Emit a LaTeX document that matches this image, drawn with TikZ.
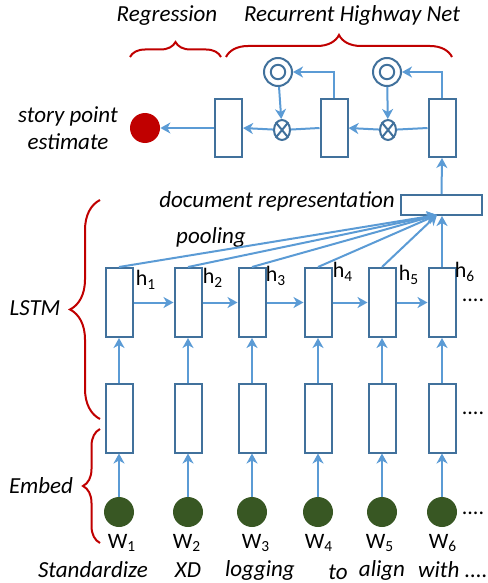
\documentclass[tikz,border=0pt]{standalone}
\usepackage{fontspec}
\setmainfont{Carlito}
\usetikzlibrary{decorations.pathreplacing,arrows.meta,shapes.geometric}

\definecolor{linkblue}{RGB}{91,155,213}
\definecolor{boxblue}{RGB}{65,113,156}
\definecolor{bracered}{RGB}{192,0,0}
\definecolor{wordgreen}{RGB}{56,87,35}

\begin{document}
\begin{tikzpicture}[x=0.5pt,y=-0.5pt,
  every node/.style={font=\fontsize{11}{13}\selectfont},
  lbl/.style={font=\fontsize{11.5}{13.5}\selectfont\itshape},
  link/.style={draw=linkblue,line width=1pt},
  arr/.style={link,-{Stealth[length=5pt,width=5.5pt,inset=1.5pt]}},
  cell/.style={draw=boxblue,line width=1pt,minimum width=13.5pt,minimum height=34.5pt,inner sep=0pt},
  rhn/.style={cell,minimum height=29pt},
  gate/.style={circle,draw=boxblue,line width=1pt,minimum size=14pt,inner sep=0pt,
    path picture={\draw[boxblue,line width=1pt] (path picture bounding box.center) circle (3.6pt);}},
  mult/.style={ellipse,draw=boxblue,line width=1pt,minimum width=8pt,minimum height=10pt,inner sep=0pt},
  word/.style={circle,fill=wordgreen,minimum size=15pt,inner sep=0pt},
  curly/.style={draw=bracered,line width=1pt,decorate,decoration={brace,amplitude=#1}}]

\useasboundingbox (0,0) rectangle (487,583);

% Top labels and braces
\node[lbl] (reg) at (167,16) {Regression};
\node[lbl] (hwy) at (352,15) {Recurrent Highway Net};
\draw[curly=7.5pt] (130,57) -- (221,57);
\draw[curly=11pt] (226,57) -- (452,57);

% Recurrent highway net
\node[rhn] (R1) at (228.5,128) {};
\node[rhn] (R2) at (334,128) {};
\node[rhn] (R3) at (442,128) {};
\node[gate] (G1) at (278,72) {};
\node[gate] (G2) at (387,72) {};
\node[mult] (M1) at (282,130) {};
\node[mult] (M2) at (388,130) {};
\foreach \m in {M1,M2}
  \draw[boxblue,line width=1pt] (\m.north west) -- (\m.south east) (\m.north east) -- (\m.south west);

\draw[link] (R3.west) -- (M2);
\draw[arr] (M2) -- (R2.east);
\draw[arr] (R3.north) |- (G2.east);
\draw[arr] (G2) -- (M2);
\draw[link] (R2.west) -- (M1);
\draw[arr] (M1) -- (R1.east);
\draw[arr] (R2.north) |- (G1.east);
\draw[arr] (G1) -- (M1);

% Regression output
\node[circle,fill=bracered,minimum size=15pt,inner sep=0pt] (est) at (145,128) {};
\node[lbl,align=center] (estlbl) at (68,128) {story point\\estimate};
\draw[arr] (R1.west) -- (est);

% Document representation
\node[draw=boxblue,line width=1pt,minimum width=40.5pt,minimum height=10pt,inner sep=0pt] (doc) at (441.5,205) {};
\node[lbl] (doclbl) at (277,201) {document representation};
\node[lbl] (pool) at (211,237) {pooling};
\coordinate (P) at (437,215);
\draw[arr] (doc.north) -- (R3.south);

% LSTM and embedding columns
\foreach \i/\x/\hx/\hy/\wx in {1/119/146/280/122,2/188/213/278/187,3/252/276/276/256,
    4/318/343/272/319,5/382/409/275/380,6/442/465/272/443}{
  \node[cell] (H\i) at (\x,302.5) {};
  \node[cell] (E\i) at (\x,418) {};
  \node[word] (W\i) at (\x,512) {};
  \node (h\i) at (\hx,\hy) {h\textsubscript{\i}};
  \node (w\i) at (\wx,543) {W\textsubscript{\i}};
  \draw[arr] (E\i.north) -- (H\i.south);
  \draw[arr] (W\i.north) -- (E\i.south);
}
\node[lbl] (t1) at (93,570) {Standardize};
\node[lbl] (t2) at (188,570) {XD};
\node[lbl] (t3) at (260,570) {logging};
\node[lbl] (t4) at (338,572) {to};
\node[lbl] (t5) at (382,570) {align};
\node[lbl] (t6) at (453,570) {with ....};

\foreach \i [count=\j from 2] in {1,2,3,4,5}
  \draw[arr] (H\i.east) -- (H\j.west);
\foreach \i in {1,2,3,4,5}
  \draw[arr] (H\i.north) -- (P);
\draw[arr] (H6.north) -- (H6.north |- doc.south);

% Dots
\node (d1) at (473,300) {....};
\node (d2) at (473,413) {....};
\node (d3) at (473,513) {....};

% Left braces
\node[lbl] (lstm) at (35,308) {LSTM};
\node[lbl] (emb) at (41,486) {Embed};
\draw[curly=15pt] (100,419) -- (100,200);
\draw[curly=8.5pt] (100,543) -- (100,429);
\end{tikzpicture}
\end{document}
